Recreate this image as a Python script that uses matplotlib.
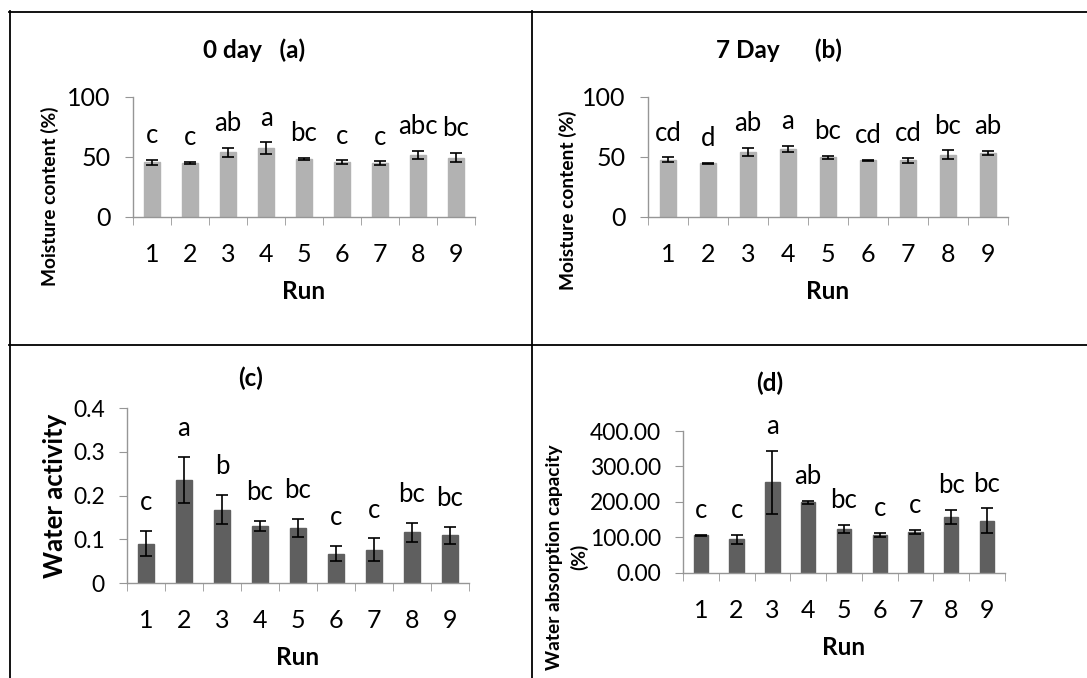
"""
Four-panel bar chart: moisture content (0 / 7 day), water activity, water absorption capacity.
"""
import numpy as np
import matplotlib
matplotlib.use('Agg')
import matplotlib.pyplot as plt
from matplotlib.lines import Line2D

plt.rcParams['font.family'] = ['Lato', 'DejaVu Sans']

runs = ['1', '2', '3', '4', '5', '6', '7', '8', '9']

# (a) moisture content, 0 day
mc0 = [45.6, 45.0, 53.9, 57.2, 48.3, 45.8, 45.0, 51.7, 49.4]
mc0_err = [2.2, 0.7, 3.6, 4.9, 1.0, 1.3, 1.4, 3.6, 4.0]
mc0_grp = ['c', 'c', 'ab', 'a', 'bc', 'c', 'c', 'abc', 'bc']

# (b) moisture content, 7 day
mc7 = [47.8, 44.7, 53.9, 56.7, 49.7, 47.2, 47.2, 51.7, 53.3]
mc7_err = [2.0, 0.3, 3.5, 2.6, 1.2, 0.2, 2.0, 3.8, 1.7]
mc7_grp = ['cd', 'd', 'ab', 'a', 'bc', 'cd', 'cd', 'bc', 'ab']

# (c) water activity
aw = [0.090, 0.235, 0.168, 0.130, 0.126, 0.067, 0.076, 0.116, 0.109]
aw_err = [0.029, 0.053, 0.033, 0.012, 0.021, 0.017, 0.026, 0.022, 0.020]
aw_grp = ['c', 'a', 'b', 'bc', 'bc', 'c', 'c', 'bc', 'bc']

# (d) water absorption capacity
wac = [106, 95, 255, 199, 125, 108, 116, 157, 147]
wac_err = [1, 13, 89, 4, 11, 6, 6, 20, 35]
wac_grp = ['c', 'c', 'a', 'ab', 'bc', 'c', 'c', 'bc', 'bc']

LIGHT = '#b2b2b2'
DARK = '#5f5f5f'
AXC = '#969696'

fig = plt.figure(figsize=(10.87, 6.78), dpi=100)


def panel(rect, vals, errs, grps, color, ylim, yticks, yfmt, tick_fs, x_fs, letter_off):
    ax = fig.add_axes(rect)
    x = np.arange(1, len(vals) + 1)
    ax.bar(x, vals, width=0.4, color=color, edgecolor=color, zorder=2)
    ax.errorbar(x, vals, yerr=errs, fmt='none', ecolor='black', elinewidth=1.2,
                capsize=4, capthick=1.2, zorder=3)
    for xi, v, e, g in zip(x, vals, errs, grps):
        ax.annotate(g, (xi, v + e), xytext=(0, letter_off), textcoords='offset points',
                    ha='center', va='baseline', fontsize=18.5)
    ax.set_xlim(0.5, len(vals) + 0.5)
    ax.set_ylim(*ylim)
    ax.set_yticks(yticks)
    ax.set_yticklabels([yfmt.format(t) for t in yticks], fontsize=tick_fs)
    ax.set_xticks(x)
    ax.set_xticklabels(runs, fontsize=x_fs)
    ax.set_xticks(np.arange(0.5, len(vals) + 1), minor=True)
    ax.tick_params(axis='x', which='major', length=0, pad=19)
    ax.tick_params(axis='x', which='minor', length=6, color=AXC, direction='out')
    ax.tick_params(axis='y', length=6, color=AXC, direction='out', pad=10)
    for s in ['top', 'right']:
        ax.spines[s].set_visible(False)
    for s in ['left', 'bottom']:
        ax.spines[s].set_color(AXC)
        ax.spines[s].set_linewidth(1.0)
    ax.patch.set_alpha(0)
    return ax


# (a)
ax = panel([0.1224, 0.680, 0.3146, 0.177], mc0, mc0_err, mc0_grp, LIGHT,
           (0, 100), [0, 50, 100], '{:g}', 18, 18, 12)
ax.set_xlabel('Run', fontsize=17.5, fontweight='bold', labelpad=10)
fig.text(50 / 1087, 1 - 196 / 678, 'Moisture content (%)', rotation=90,
         ha='center', va='center', fontsize=13.8, fontweight='bold')
fig.text(254 / 1087, 1 - 50 / 678, '0 day   (a)', ha='center', va='center',
         fontsize=17.5, fontweight='bold')

# (b)
ax = panel([0.5961, 0.680, 0.3312, 0.177], mc7, mc7_err, mc7_grp, LIGHT,
           (0, 100), [0, 50, 100], '{:g}', 18, 18, 12)
ax.set_xlabel('Run', fontsize=17.5, fontweight='bold', labelpad=10)
fig.text(568 / 1087, 1 - 200 / 678, 'Moisture content (%)', rotation=90,
         ha='center', va='center', fontsize=13.8, fontweight='bold')
fig.text(779 / 1087, 1 - 50 / 678, '7 Day      (b)', ha='center', va='center',
         fontsize=17.5, fontweight='bold')

# (c)
ax = panel([0.1168, 0.1401, 0.3146, 0.2581], aw, aw_err, aw_grp, DARK,
           (0, 0.4), [0, 0.1, 0.2, 0.3, 0.4], '{:g}', 16.5, 18, 15)
ax.set_xlabel('Run', fontsize=17.5, fontweight='bold', labelpad=10)
fig.text(55 / 1087, 1 - 496 / 678, 'Water activity', rotation=90,
         ha='center', va='center', fontsize=18.5, fontweight='bold')
fig.text(251 / 1087, 1 - 378 / 678, '(c)', ha='center', va='center',
         fontsize=17.5, fontweight='bold')

# (d)
ax = panel([0.6283, 0.1549, 0.2962, 0.2094], wac, wac_err, wac_grp, DARK,
           (0, 400), [0, 100, 200, 300, 400], '{:.2f}', 16.5, 18, 12)
ax.set_xlabel('Run', fontsize=17.5, fontweight='bold', labelpad=10)
fig.text(567 / 1087, 1 - 557 / 678, 'Water absorption capacity\n(%)', rotation=90,
         ha='center', va='center', fontsize=13.8, fontweight='bold', linespacing=1.45)
fig.text(770 / 1087, 1 - 383 / 678, '(d)', ha='center', va='center',
         fontsize=17.5, fontweight='bold')

# table-like frame lines
W, H = 1087, 678
def fline(x0, y0, x1, y1):
    fig.add_artist(Line2D([x0 / W, x1 / W], [1 - y0 / H, 1 - y1 / H],
                          color='black', lw=1.3, transform=fig.transFigure))

fline(9, 11.5, W, 11.5)
fline(9.5, 11, 9.5, H)
fline(532, 11, 532, H)
fline(9, 345, W, 345)

fig.savefig('out.png', dpi=100)
